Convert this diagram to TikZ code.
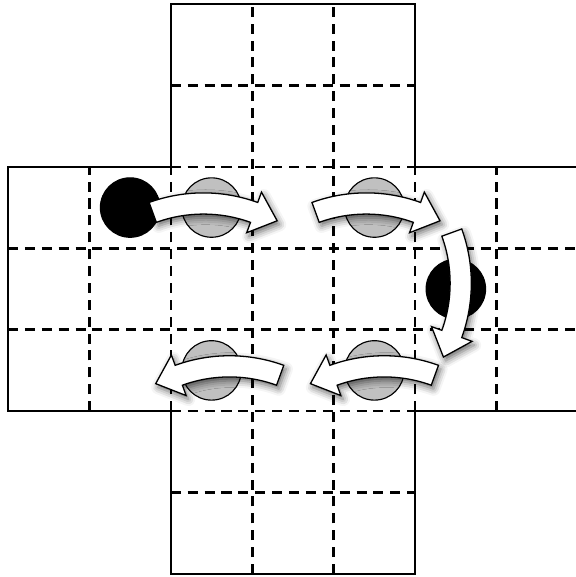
\documentclass[tikz,border=0pt]{standalone}
\usepackage{tikz}
\usetikzlibrary{shadows.blur}
\definecolor{peggray}{RGB}{192,192,192}

\tikzset{
    movearrow/.pic={
        \path[jumparrow] (110:1.95) arc[start angle=110, end angle=70, radius=1.95]
            -- (70:2.085) -- (60.6:1.845) -- (70:1.555)
            -- (70:1.69) arc[start angle=70, end angle=110, radius=1.69] -- cycle;
    }
}

\begin{document}
\begin{tikzpicture}[
    holeline/.style={line width=0.9pt, dash pattern=on 3.5pt off 2.4pt},
    boardedge/.style={line width=0.9pt},
    peg/.style={circle, draw, line width=0.4pt, minimum size=0.73cm, inner sep=0pt},
    jumparrow/.style={draw, fill=white, line width=0.45pt, line join=miter,
        blur shadow={shadow xshift=0.8pt, shadow yshift=-1.3pt, shadow blur radius=2.4pt, shadow opacity=60}}
]
\useasboundingbox (-0.098,-0.037) rectangle (6.97,7.049);

% dashed hole borders
\foreach \k in {3,4} {
    \draw[holeline] (0,\k) -- (7,\k);
    \draw[holeline] (\k,0) -- (\k,7);
}
\foreach \k in {1,2,5,6} {
    \draw[holeline] (2,\k) -- (5,\k);
    \draw[holeline] (\k,2) -- (\k,5);
}

% board outline
\draw[boardedge] (2,0) -- (5,0) -- (5,2) -- (7,2) -- (7,5) -- (5,5) -- (5,7)
    -- (2,7) -- (2,5) -- (0,5) -- (0,2) -- (2,2) -- cycle;

% pegs
\node[peg, fill=black] (start) at (1.5,4.5) {};
\node[peg, fill=peggray] (hopa) at (2.5,4.5) {};
\node[peg, fill=peggray] (hopb) at (4.5,4.5) {};
\node[peg, fill=black] (turn) at (5.5,3.5) {};
\node[peg, fill=peggray] (hopc) at (4.5,2.5) {};
\node[peg, fill=peggray] (hopd) at (2.5,2.5) {};

% jumps
\pic at (2.40,2.73) {movearrow};
\pic at (4.40,2.73) {movearrow};
\pic[rotate=-90] at (3.74,3.57) {movearrow};
\pic[xscale=-1] at (4.62,0.73) {movearrow};
\pic[xscale=-1] at (2.72,0.73) {movearrow};
\end{tikzpicture}
\end{document}
